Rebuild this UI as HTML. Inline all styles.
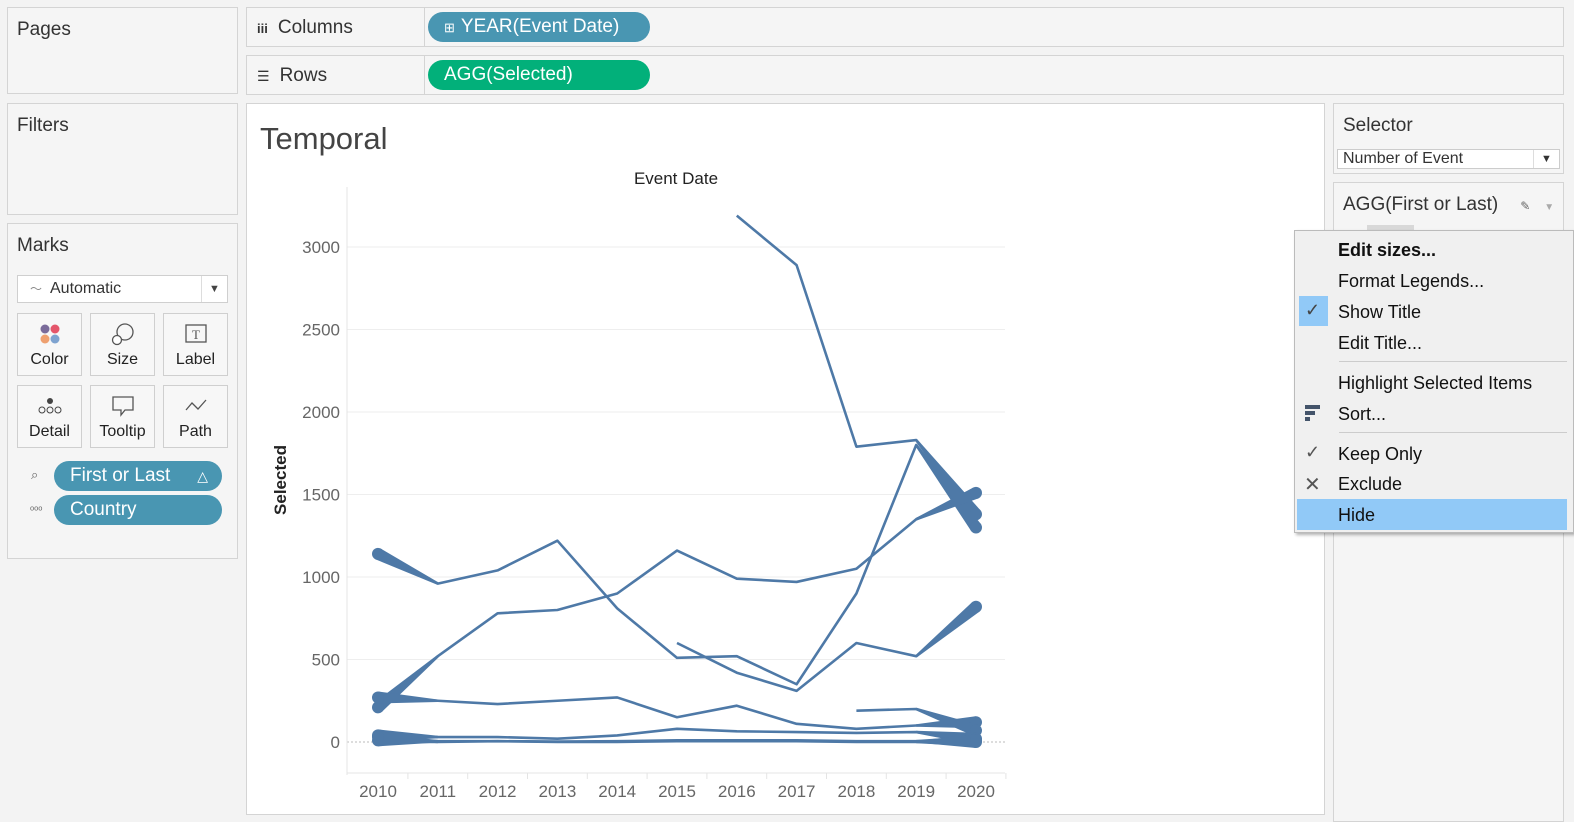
<!DOCTYPE html>
<html><head><meta charset="utf-8"><style>
body{margin:0;width:1574px;height:821px;background:#f3f3f3;font-family:"Liberation Sans",sans-serif;position:relative;overflow:hidden;color:#333}
.p{position:absolute;box-sizing:border-box;border:1px solid #d4d4d4;background:#f5f5f5}
.t{position:absolute;font-size:19px;color:#333}
.pill{position:absolute;border-radius:15px;color:#fff;font-size:19px;box-sizing:border-box;padding-left:16px;line-height:30px}
.card{position:absolute;border:1px solid #cfcfcf;background:#f7f7f7;box-sizing:border-box;text-align:center;font-size:16px;color:#222}
.mi{position:absolute;left:1338px;font-size:18px;color:#111}
</style></head><body>
<div class="p" style="left:7px;top:7px;width:231px;height:87px"><div class="t" style="left:9px;top:11px">Pages</div></div>
<div class="p" style="left:7px;top:103px;width:231px;height:112px"><div class="t" style="left:9px;top:11px">Filters</div></div>
<div class="p" style="left:7px;top:223px;width:231px;height:336px">
<div class="t" style="left:9px;top:11px">Marks</div>
<div style="position:absolute;left:9px;top:51px;width:211px;height:28px;border:1px solid #cfcfcf;background:#fff;box-sizing:border-box;font-size:16px;line-height:26px;padding-left:32px">Automatic<span style="position:absolute;left:12px;color:#888;font-size:12px">〜</span><span style="position:absolute;right:0;top:0;width:25px;height:26px;border-left:1px solid #ddd;text-align:center;font-size:11px;color:#444">▼</span></div>
<div class="card" style="left:9px;top:89px;width:65px;height:63px"><svg width="24" height="24" style="margin-top:8px"><circle cx="7" cy="7" r="4.5" fill="#7a6b9a"/><circle cx="17" cy="7" r="4.5" fill="#e4566b"/><circle cx="7" cy="17" r="4.5" fill="#eea070"/><circle cx="17" cy="17" r="4.5" fill="#7ea3d0"/></svg><div>Color</div></div>
<div class="card" style="left:82px;top:89px;width:65px;height:63px"><svg width="24" height="24" style="margin-top:8px"><circle cx="14" cy="10" r="8" fill="none" stroke="#555" stroke-width="1.3"/><circle cx="6" cy="18" r="4.5" fill="#fff" stroke="#555" stroke-width="1.3"/></svg><div>Size</div></div>
<div class="card" style="left:155px;top:89px;width:65px;height:63px"><svg width="24" height="24" style="margin-top:8px"><rect x="2" y="3" width="20" height="17" fill="none" stroke="#555" stroke-width="1.3"/><text x="12" y="17" font-size="13" text-anchor="middle" font-family="Liberation Serif" fill="#555">T</text></svg><div>Label</div></div>
<div class="card" style="left:9px;top:161px;width:65px;height:63px"><svg width="26" height="24" style="margin-top:8px"><circle cx="13" cy="7" r="3" fill="#444"/><circle cx="5" cy="16" r="3" fill="none" stroke="#444"/><circle cx="13" cy="16" r="3" fill="none" stroke="#444"/><circle cx="21" cy="16" r="3" fill="none" stroke="#444"/></svg><div>Detail</div></div>
<div class="card" style="left:82px;top:161px;width:65px;height:63px"><svg width="24" height="24" style="margin-top:8px"><path d="M2 3H22V16H14L10 21V16H2Z" fill="none" stroke="#555" stroke-width="1.3"/></svg><div>Tooltip</div></div>
<div class="card" style="left:155px;top:161px;width:65px;height:63px"><svg width="24" height="24" style="margin-top:8px"><path d="M2 16L8 9L14 15L22 6" fill="none" stroke="#555" stroke-width="1.3"/></svg><div>Path</div></div>
<div class="pill" style="left:46px;top:237px;width:168px;height:30px;background:#4996b2">First or Last<span style="position:absolute;right:14px;font-size:14px">△</span></div>
<div class="pill" style="left:46px;top:271px;width:168px;height:30px;background:#4996b2">Country</div>
<span style="position:absolute;left:23px;top:243px;font-size:13px;color:#666">⌕</span><span style="position:absolute;left:22px;top:277px;font-size:11px;color:#666">ₒₒₒ</span>
</div>
<div class="p" style="left:246px;top:7px;width:1318px;height:40px;background:#f5f5f5"><div style="position:absolute;left:177px;top:0;bottom:0;border-left:1px solid #d4d4d4"></div><div class="t" style="left:10px;top:9px"><span style="font-size:13px;font-weight:bold;margin-right:10px">iii</span>Columns</div>
<div class="pill" style="left:181px;top:4px;width:222px;height:30px;background:#4996b2;font-size:19px"><span style="font-size:13px;margin-right:6px">⊞</span>YEAR(Event Date)</div></div>
<div class="p" style="left:246px;top:55px;width:1318px;height:40px"><div style="position:absolute;left:177px;top:0;bottom:0;border-left:1px solid #d4d4d4"></div><div class="t" style="left:10px;top:9px"><span style="font-size:14px;margin-right:10px">☰</span>Rows</div>
<div class="pill" style="left:181px;top:4px;width:222px;height:30px;background:#02b07a">AGG(Selected)</div></div>
<div class="p" style="left:246px;top:103px;width:1079px;height:712px;background:#fff">
<div style="position:absolute;left:13px;top:17px;font-size:31px;color:#444">Temporal</div></div>
<div class="p" style="left:1333px;top:103px;width:231px;height:71px"><div class="t" style="left:9px;top:11px">Selector</div>
<div style="position:absolute;left:3px;top:45px;width:223px;height:20px;border:1px solid #ccc;background:#fff;box-sizing:border-box;font-size:16px;line-height:18px;padding-left:5px;color:#333">Number of Event<span style="position:absolute;right:0;top:0;width:25px;border-left:1px solid #ddd;text-align:center;font-size:11px">▼</span></div></div>
<div class="p" style="left:1333px;top:182px;width:231px;height:640px"><div class="t" style="left:9px;top:11px">AGG(First or Last)<span style="margin-left:22px;font-size:12px;color:#666">✎</span><span style="margin-left:14px;font-size:10px;color:#aaa">▼</span></div><div style="position:absolute;left:33px;top:42px;width:47px;height:5px;background:#d8d8d8"></div></div>

<svg id="chart" width="1574" height="821" style="position:absolute;left:0;top:0" font-family="Liberation Sans"></svg>

<div style="position:absolute;left:1294px;top:230px;width:280px;height:303px;background:#f0f0f0;border:1px solid #bbb;box-shadow:2px 2px 3px rgba(0,0,0,.3);box-sizing:border-box"></div>
<div style="position:absolute;left:1299px;top:296px;width:29px;height:30px;background:#91c9f7"></div>
<div style="position:absolute;left:1297px;top:499px;width:270px;height:31px;background:#91c9f7"></div>
<div style="position:absolute;left:1339px;top:361px;width:228px;border-top:1px solid #ccc"></div>
<div style="position:absolute;left:1339px;top:432px;width:228px;border-top:1px solid #ccc"></div>
<div class="mi" style="top:240px;font-weight:bold">Edit sizes...</div>
<div class="mi" style="top:271px">Format Legends...</div>
<div class="mi" style="top:302px">Show Title</div>
<div class="mi" style="top:333px">Edit Title...</div>
<div class="mi" style="top:373px">Highlight Selected Items</div>
<div class="mi" style="top:404px">Sort...</div>
<div class="mi" style="top:444px">Keep Only</div>
<div class="mi" style="top:474px">Exclude</div>
<div class="mi" style="top:505px">Hide</div>
<div style="position:absolute;left:1305px;top:300px;font-size:18px;color:#444">✓</div>
<div style="position:absolute;left:1305px;top:442px;font-size:18px;color:#555">✓</div>
<div style="position:absolute;left:1304px;top:472px;font-size:20px;color:#555">✕</div>
<div style="position:absolute;left:1305px;top:405px;width:15px;height:4px;background:#44546a"></div><div style="position:absolute;left:1305px;top:411px;width:10px;height:4px;background:#44546a"></div><div style="position:absolute;left:1305px;top:417px;width:5px;height:4px;background:#44546a"></div>

<script>
const years=[2010,2011,2012,2013,2014,2015,2016,2017,2018,2019,2020];
const yTicks=[0,500,1000,1500,2000,2500,3000];
const s1=[null,null,null,null,null,null,3190,2890,1790,1830,1380];
const s2=[1140,960,1040,1220,810,510,520,350,900,1800,1300];
const s3=[210,520,780,800,900,1160,990,970,1050,1350,1510];
const s4=[null,null,null,null,null,600,420,310,600,520,820];
const s5=[270,250,230,250,270,150,220,110,80,100,120];
const s6=[null,null,null,null,null,null,null,null,190,200,70];
const s7=[40,30,30,20,40,80,65,60,55,60,20];
const s8=[10,5,5,3,5,10,10,10,5,5,0];
const s9=[30,0,5,0,0,5,5,5,0,0,10];
const seriesList=[s1,s2,s3,s4,s5,s6,s7,s8,s9];
const X=y=>378+(y-2010)*59.8;
const Y=v=>742-v*0.165;
const svg=document.getElementById('chart');
const NS='http://www.w3.org/2000/svg';
function mk(t,a,p){const e=document.createElementNS(NS,t);for(const k in a)e.setAttribute(k,a[k]);(p||svg).appendChild(e);return e;}
for(const t of yTicks){
 const g=mk('line',{x1:347,x2:1005,y1:Y(t),y2:Y(t),stroke:t===0?'#bbb':'#eee','stroke-dasharray':t===0?'2,2':'none'});
 
 
 const l=mk('text',{x:340,y:Y(t)+6,'text-anchor':'end','font-size':17,fill:'#666'});l.textContent=t;
 
 
}
mk('line',{x1:347,x2:347,y1:187,y2:775,stroke:'#e4e4e4'});
mk('line',{x1:347,x2:1005,y1:773,y2:773,stroke:'#e4e4e4'});
years.forEach((yr,i)=>{
 const l=mk('text',{x:X(yr),y:797,'text-anchor':'middle','font-size':17,fill:'#666'});l.textContent=yr;
 
 
 mk('line',{x1:X(yr)+29.9,x2:X(yr)+29.9,y1:773,y2:779,stroke:'#e4e4e4'});
});
const xt=mk('text',{x:676,y:184,'text-anchor':'middle','font-size':17,fill:'#222'});xt.textContent='Event Date';


const yt=mk('text',{x:286,y:480,'text-anchor':'middle','font-size':17,'font-weight':'bold',fill:'#222',transform:'rotate(-90 286 480)'});yt.textContent='Selected';


const C='#4e79a7';
function wedge(a,b,wa,wb){
 const dx=b[0]-a[0],dy=b[1]-a[1],L=Math.hypot(dx,dy),nx=-dy/L,ny=dx/L;
 const p=mk('polygon',{points:[[a[0]+nx*wa,a[1]+ny*wa],[b[0]+nx*wb,b[1]+ny*wb],[b[0]-nx*wb,b[1]-ny*wb],[a[0]-nx*wa,a[1]-ny*wa]].map(q=>q.join(',')).join(' '),fill:C});
 
 
 const c=mk('circle',{cx:a[0],cy:a[1],r:wa,fill:C});
}
seriesList.forEach((s,si)=>{
 const pts=[];s.forEach((v,i)=>{if(v!=null)pts.push([X(years[i]),Y(v)]);});
 const pl=mk('polyline',{points:pts.map(p=>p.join(',')).join(' '),fill:'none',stroke:C,'stroke-width':2.6,'stroke-linejoin':'round'});
 
 
 if(s[0]!=null)wedge(pts[0],pts[1],6,1.3);
 if(s[s.length-1]!=null)wedge(pts[pts.length-1],pts[pts.length-2],6,1.3);
});
</script>
</body></html>
